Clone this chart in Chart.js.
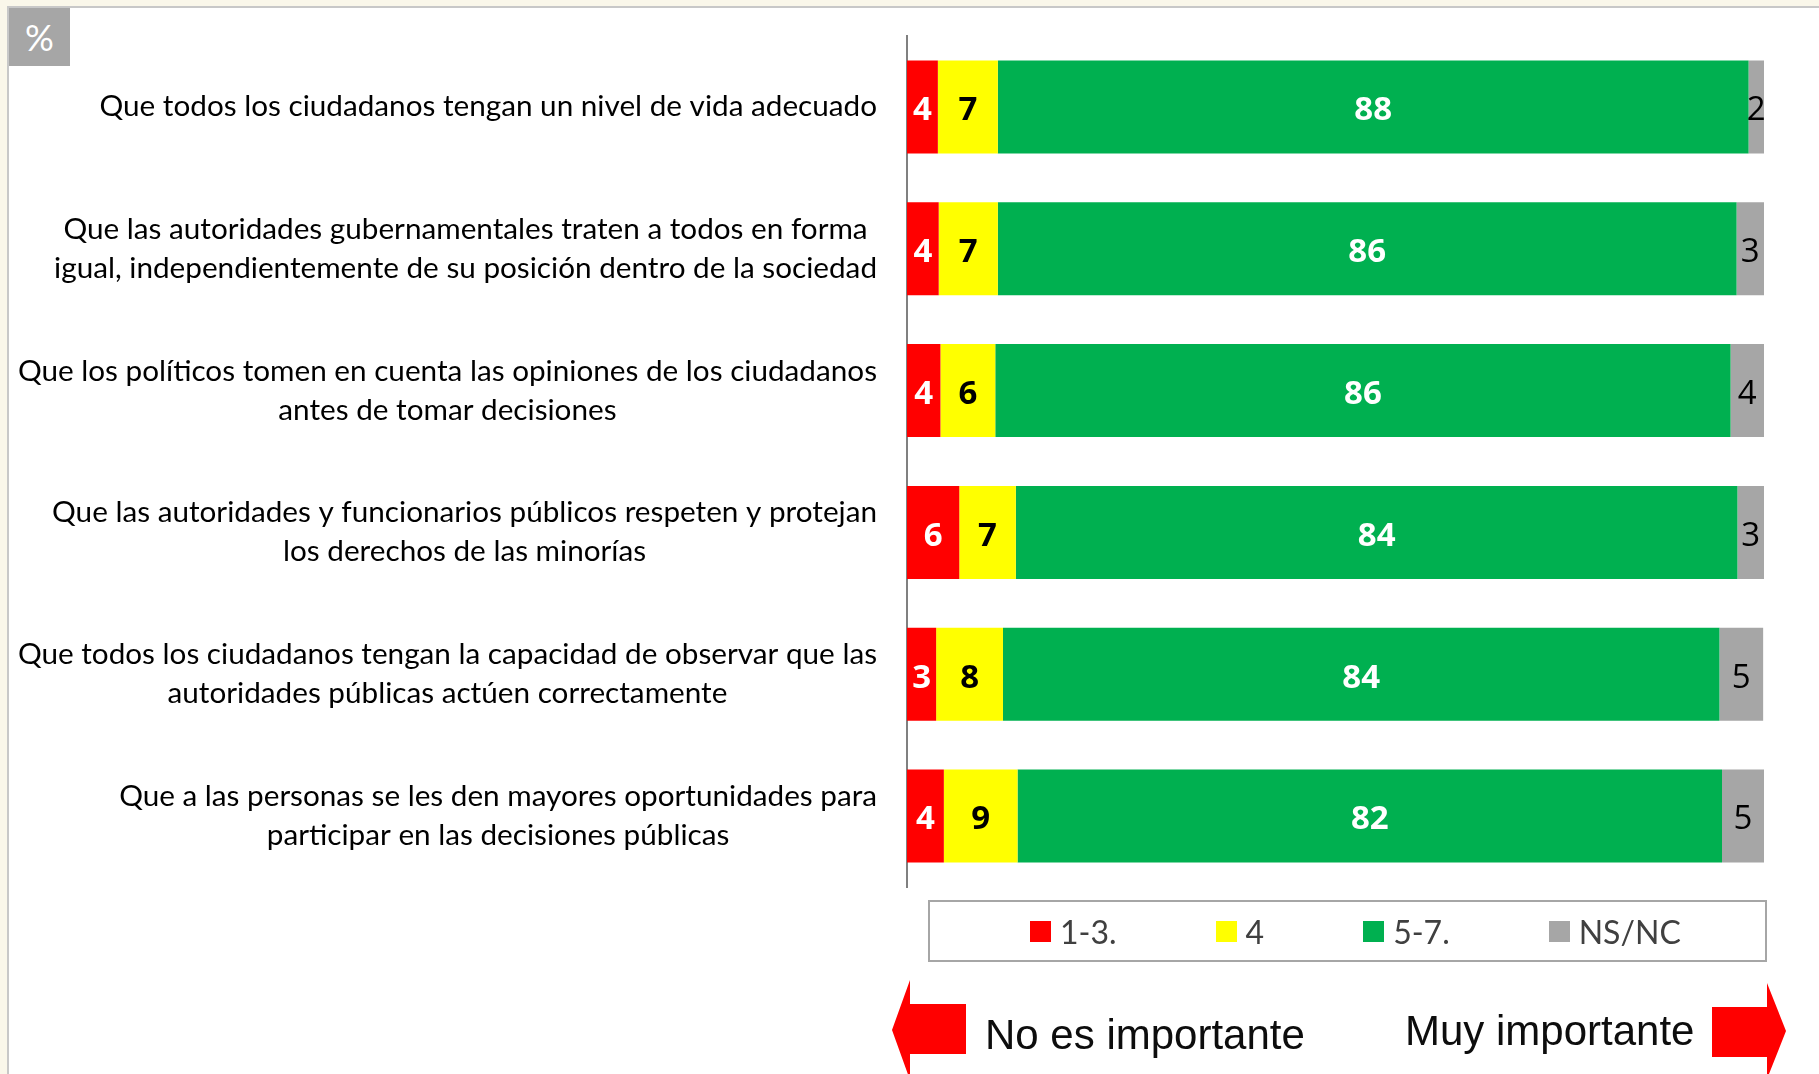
<!DOCTYPE html>
<html>
<head>
<meta charset="utf-8">
<script src="https://cdn.jsdelivr.net/npm/chart.js@4.4.1/dist/chart.umd.min.js"></script>
<style>
  html, body { margin: 0; padding: 0; }
  body { width: 1819px; height: 1074px; background: #faf7ea; position: relative; overflow: hidden; font-family: Lato, sans-serif; }
  .panel { position: absolute; left: 7px; top: 6px; right: 0; bottom: 0; background: #fff; border-left: 2px solid #c8c8c8; border-top: 2px solid #c8c8c8; }
  #chart { position: absolute; left: 0; top: 0; }
  .pct { position: absolute; left: 9px; top: 8px; width: 61px; height: 58px; background: #a6a6a6; color: #fff; font: 36px Lato; display: flex; align-items: center; justify-content: center; }
  .legend { position: absolute; left: 928px; top: 900px; width: 839px; height: 62px; box-sizing: border-box; border: 2px solid #a6a6a6; display: flex; align-items: center; padding-left: 100px; }
  .legend .item { display: flex; align-items: center; margin-right: 99px; }
  .legend .sw { width: 21px; height: 21px; margin-right: 9px; }
  .legend .lt { font: 32px Lato; color: #404040; }
  .arrows { position: absolute; left: 0; top: 0; }
  .cap { position: absolute; font: 42px "Liberation Sans", Arial, sans-serif; color: #0d0d0d; line-height: 42px; white-space: nowrap; }
</style>
</head>
<body>
<div class="panel"></div>
<canvas id="chart" width="1819" height="1074"></canvas>
<div class="pct">%</div>
<div class="legend" id="legend"></div>
<svg class="arrows" width="1819" height="1074">
  <polygon fill="#ff0000" points="892,1030 910,980 910,1004 966,1004 966,1054 910,1054 910,1080"/>
  <polygon fill="#ff0000" points="1786,1031 1767,983 1767,1007 1712,1007 1712,1057 1767,1057 1767,1079"/>
</svg>
<div class="cap" style="left:985px; top:1014px;">No es importante</div>
<div class="cap" style="left:1405px; top:1010px;">Muy importante</div>
<script>
// categories (each entry = lines of the label)
const categories = [
  ['Que todos los ciudadanos tengan un nivel de vida adecuado'],
  ['Que las autoridades gubernamentales traten a todos en forma', 'igual, independientemente de su posición dentro de la sociedad'],
  ['Que los políticos tomen en cuenta las opiniones de los ciudadanos', 'antes de tomar decisiones'],
  ['Que las autoridades y funcionarios públicos respeten y protejan', 'los derechos de las minorías'],
  ['Que todos los ciudadanos tengan la capacidad de observar que las', 'autoridades públicas actúen correctamente'],
  ['Que a las personas se les den mayores oportunidades para', 'participar en las decisiones públicas']
];

const seriesNames = ['1-3.', '4', '5-7.', 'NS/NC'];

// % per answer group
const poco = [3.6, 3.7, 3.9, 6.1, 3.4, 4.3];
const medio = [7.0, 6.9, 6.4, 6.6, 7.8, 8.6];
const muy = [87.6, 86.2, 85.8, 84.2, 83.6, 82.2];
const nsnc = [1.8, 3.2, 3.9, 3.1, 5.1, 4.9];

const colors = ['#ff0000', '#ffff00', '#00b050', '#a6a6a6'];
const labelColors = ['#ffffff', '#000000', '#ffffff', '#000000'];
const labelBold = [true, true, true, false];

const seriesData = [poco, medio, muy, nsnc];

// html legend
const legendEl = document.getElementById('legend');
legendEl.innerHTML = seriesNames.map((n, i) =>
  `<div class="item"${i === seriesNames.length - 1 ? ' style="margin-right:0"' : ''}><span class="sw" style="background:${colors[i]}"></span><span class="lt">${n}</span></div>`
).join('');

const categoryLabels = {
  id: 'categoryLabels',
  afterDraw(chart) {
    const { ctx, scales: { y } } = chart;
    ctx.save();
    ctx.font = '29.7px Lato';
    ctx.fillStyle = '#000';
    ctx.textAlign = 'center';
    ctx.textBaseline = 'middle';
    categories.forEach((lines, i) => {
      const yc = y.getPixelForValue(i);
      const w = Math.max(...lines.map(l => ctx.measureText(l).width));
      const cx = 877 - w / 2;
      lines.forEach((l, j) => ctx.fillText(l, cx, yc + (j - (lines.length - 1) / 2) * 39));
    });
    ctx.restore();
  }
};

const valueLabels = {
  id: 'valueLabels',
  afterDatasetsDraw(chart) {
    const ctx = chart.ctx;
    ctx.save();
    ctx.textAlign = 'center';
    ctx.textBaseline = 'middle';
    chart.data.datasets.forEach((ds, di) => {
      const meta = chart.getDatasetMeta(di);
      ctx.font = (labelBold[di] ? 'bold ' : '') + '33px "Open Sans"';
      ctx.fillStyle = labelColors[di];
      meta.data.forEach((bar, i) => {
        ctx.fillText(String(Math.round(ds.data[i])), (bar.x + bar.base) / 2, bar.y + 4);
      });
    });
    ctx.restore();
  }
};

new Chart(document.getElementById('chart'), {
  type: 'bar',
  data: {
    labels: categories.map(c => c.join(' ')),
    datasets: seriesNames.map((n, i) => ({
      label: n,
      data: seriesData[i],
      backgroundColor: colors[i],
      borderWidth: 0,
      barPercentage: 0.656,
      categoryPercentage: 1
    }))
  },
  options: {
    indexAxis: 'y',
    responsive: false,
    animation: false,
    layout: { padding: { left: 0, right: 55, top: 36, bottom: 187 } },
    plugins: { legend: { display: false }, tooltip: { enabled: false } },
    scales: {
      x: { stacked: true, min: 0, max: 100, display: false },
      y: {
        stacked: true,
        grid: { display: false },
        ticks: { display: false },
        border: { display: true, color: '#808080', width: 2 },
        afterFit(scale) { scale.width = 907; }
      }
    }
  },
  plugins: [categoryLabels, valueLabels]
});
</script>
</body>
</html>
